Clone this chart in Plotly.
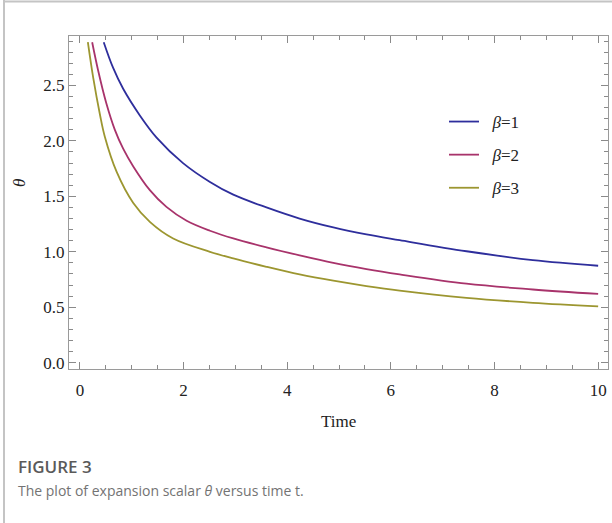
import plotly.graph_objects as go

# data
t_b1 = [0.46, 0.64, 0.835, 1.157, 1.48, 1.99, 2.51, 2.96, 3.6, 4.24, 4.89, 5.53, 6.17, 7.46, 8.74, 10]
th_b1 = [2.89, 2.66, 2.47, 2.23, 2.03, 1.80, 1.63, 1.515, 1.40, 1.30, 1.22, 1.157, 1.105, 1.005, 0.925, 0.874]

t_b2 = [0.237, 0.35, 0.51, 0.675, 0.835, 1.03, 1.35, 1.67, 2.06, 2.51, 2.96, 3.6, 4.24, 4.89, 5.53, 6.17, 7.46, 8.74, 10]
th_b2 = [2.89, 2.64, 2.34, 2.10, 1.93, 1.77, 1.556, 1.405, 1.28, 1.19, 1.12, 1.04, 0.968, 0.90, 0.844, 0.796, 0.712, 0.66, 0.62]

t_b3 = [0.154, 0.257, 0.386, 0.48, 0.71, 1.03, 1.35, 1.80, 2.51, 2.96, 3.6, 4.24, 4.89, 5.53, 6.17, 7.46, 8.74, 10]
th_b3 = [2.89, 2.57, 2.24, 2.04, 1.72, 1.44, 1.27, 1.12, 1.0, 0.94, 0.865, 0.796, 0.739, 0.691, 0.65, 0.585, 0.54, 0.508]

series_names = ["&nbsp;&nbsp;<i>β</i>=1", "&nbsp;&nbsp;<i>β</i>=2", "&nbsp;&nbsp;<i>β</i>=3"]
colors = ["#2E2E9C", "#A8336B", "#9C9630"]

W, H = 612, 523
L, R, T, B = 69, 4, 36, 154
pw, ph = W - L - R, H - T - B

def px_x(p):
    return (p - L) / pw

def px_y(p):
    return (H - B - p) / ph

fig = go.Figure()
for i, (tt, th) in enumerate([(t_b1, th_b1), (t_b2, th_b2), (t_b3, th_b3)]):
    fig.add_trace(go.Scatter(x=tt, y=th, mode="lines", name=series_names[i],
                             legendgroup=str(i),
                             line=dict(color=colors[i], width=1.8, shape="spline", smoothing=1.0)))

serif = "Liberation Serif, Times New Roman, serif"
axis_common = dict(showgrid=False, zeroline=False, showline=True, linecolor="#9a9a9a", linewidth=1,
                   mirror="allticks", ticks="inside", tickcolor="#8a8a8a", tickwidth=1, automargin=False,
                   tickfont=dict(family=serif, size=17, color="#222"))

fig.update_xaxes(range=[-0.21, 10.19], tickvals=[0, 2, 4, 6, 8, 10], ticklen=7, ticklabelstandoff=6,
                 minor=dict(dtick=0.5, tick0=0, ticks="inside", ticklen=4, tickcolor="#8a8a8a"),
                 **axis_common)
fig.update_yaxes(range=[-0.057, 2.946], tickvals=[0, 0.5, 1.0, 1.5, 2.0, 2.5], ticktext=["0.0", "0.5", "1.0", "1.5", "2.0", "2.5"],
                 ticklen=7,
                 minor=dict(dtick=0.1, tick0=0, ticks="inside", ticklen=4, tickcolor="#8a8a8a"),
                 **axis_common)

fig.update_layout(
    width=W, height=H,
    margin=dict(l=L, r=R, t=T, b=B, autoexpand=False),
    paper_bgcolor="white", plot_bgcolor="white",
    showlegend=True,
    legend=dict(x=px_x(444), y=px_y(104), xanchor="left", yanchor="top",
                bgcolor="rgba(0,0,0,0)", font=dict(family=serif, size=17, color="#222"),
                traceorder="grouped", tracegroupgap=8),
    annotations=[
        dict(text="<i>θ</i>", x=px_x(19), y=px_y(183), xref="paper", yref="paper", showarrow=False,
             xanchor="center", yanchor="middle",
             textangle=-90, font=dict(family=serif, size=17, color="#222")),
        dict(text="Time", x=0.5, y=px_y(421), xref="paper", yref="paper", showarrow=False,
             xanchor="center", yanchor="middle",
             font=dict(family=serif, size=17, color="#222")),
        dict(text="FIGURE 3", x=px_x(16), y=px_y(466), xref="paper", yref="paper", showarrow=False,
             xanchor="left", yanchor="middle",
             font=dict(family="Open Sans, sans-serif", size=17, color="#5a5a5a", weight=600)),
        dict(text="The plot of expansion scalar <i>θ</i> versus time t.", x=px_x(16), y=px_y(490),
             xref="paper", yref="paper", showarrow=False, xanchor="left", yanchor="middle",
             font=dict(family="Open Sans, sans-serif", size=14, color="#737373")),
    ],
    shapes=[
        dict(type="line", xref="paper", yref="paper", x0=px_x(4), x1=px_x(4), y0=px_y(0), y1=px_y(523),
             line=dict(color="#c4c4c4", width=2), layer="above"),
        dict(type="line", xref="paper", yref="paper", x0=px_x(4), x1=px_x(612), y0=px_y(1.5), y1=px_y(1.5),
             line=dict(color="#c4c4c4", width=2), layer="above"),
    ],
)

fig.write_html("out.html", config={"displayModeBar": False},
               post_script="document.body.style.margin='0px';document.body.style.overflow='hidden';")
